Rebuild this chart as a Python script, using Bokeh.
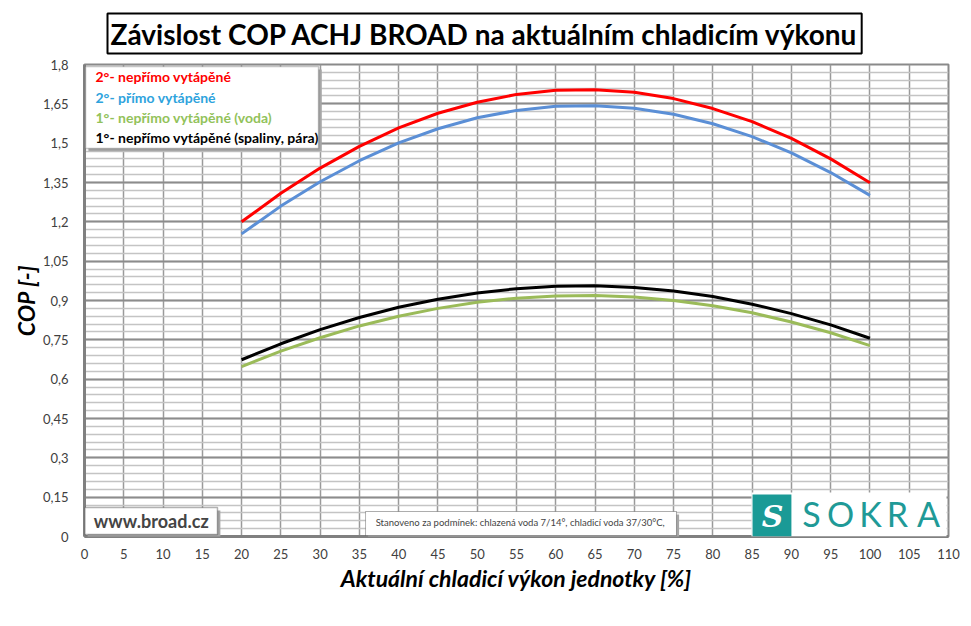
from bokeh.plotting import figure
from bokeh.models import FixedTicker, Label, BoxAnnotation, Range1d
from bokeh.embed import file_html
from bokeh.resources import INLINE
from bokeh.core.properties import value

# ---- data ----
x_pct = [20, 25, 30, 35, 40, 45, 50, 55, 60, 65, 70, 75, 80, 85, 90, 95, 100]
cop_2_neprimo = [1.200, 1.309, 1.405, 1.488, 1.558, 1.614, 1.656, 1.686, 1.702, 1.704,
                 1.694, 1.670, 1.632, 1.582, 1.518, 1.440, 1.349]
cop_2_primo = [1.154, 1.260, 1.353, 1.433, 1.501, 1.555, 1.597, 1.625, 1.641, 1.643,
               1.633, 1.610, 1.574, 1.525, 1.463, 1.388, 1.301]
cop_1_voda = [0.648, 0.707, 0.758, 0.803, 0.840, 0.870, 0.893, 0.909, 0.917, 0.919,
              0.913, 0.900, 0.880, 0.853, 0.818, 0.777, 0.728]
cop_1_spaliny = [0.674, 0.735, 0.789, 0.835, 0.874, 0.905, 0.929, 0.945, 0.954, 0.956,
                 0.950, 0.936, 0.915, 0.886, 0.850, 0.807, 0.756]

series_names = ["2°- nepřímo vytápěné", "2°- přímo vytápěné",
                "1°- nepřímo vytápěné (voda)", "1°- nepřímo vytápěné (spaliny, pára)"]

x_ticks = [0, 5, 10, 15, 20, 25, 30, 35, 40, 45, 50, 55, 60, 65, 70, 75, 80, 85, 90, 95, 100, 105, 110]
y_ticks = [0, 0.15, 0.3, 0.45, 0.6, 0.75, 0.9, 1.05, 1.2, 1.35, 1.5, 1.65, 1.8]
y_tick_labels = ["0", "0,15", "0,3", "0,45", "0,6", "0,75", "0,9", "1,05", "1,2", "1,35", "1,5", "1,65", "1,8"]
y_minor_ticks = [round(i * 0.03, 2) for i in range(61)]

title_text = "Závislost COP ACHJ BROAD na aktuálním chladicím výkonu"
x_label = "Aktuální chladicí výkon jednotky [%]"
y_label = "COP [-]"
web_text = "www.broad.cz"
note_text = "Stanoveno za podmínek: chlazená voda 7/14°, chladicí voda 37/30°C,"

FONT = "Lato"

p = figure(width=960, height=610, output_backend="svg", toolbar_location=None,
           x_range=Range1d(0, 110), y_range=Range1d(0, 1.8),
           min_border_left=84, min_border_right=12, min_border_top=64, min_border_bottom=74)

p.background_fill_color = "white"
p.border_fill_color = "white"
p.outline_line_color = "#8a8a8a"
p.outline_line_width = 2

# title
p.title.text = title_text
p.title.text_font = FONT
p.title.text_font_style = "bold"
p.title.text_font_size = "28px"
p.title.text_color = "black"
p.title.align = "left"
p.title.offset = 23
p.title.border_line_color = "black"
p.title.border_line_width = 2
p.title.background_fill_color = "white"
p.title.padding = 3
p.title.standoff = 18
p.title.vertical_align = "top"

# axes
p.xaxis.ticker = FixedTicker(ticks=x_ticks)
p.yaxis.ticker = FixedTicker(ticks=y_ticks, minor_ticks=y_minor_ticks)
p.yaxis.major_label_overrides = {t: l for t, l in zip(y_ticks, y_tick_labels)}
p.xaxis.major_label_overrides = {t: str(t) for t in x_ticks}
for ax in (p.xaxis, p.yaxis):
    ax.axis_line_color = "#808080"
    ax.axis_line_width = 3
    ax.major_tick_line_color = None
    ax.minor_tick_line_color = None
    ax.major_label_text_font = FONT
    ax.major_label_text_font_size = "13px"
    ax.major_label_text_color = "#404040"
    ax.axis_label_text_font = FONT
    ax.axis_label_text_font_style = "bold italic"
    ax.axis_label_text_font_size = "23px"
    ax.axis_label_text_color = "black"
p.xaxis.axis_label = x_label
p.yaxis.axis_label = y_label
p.xaxis.major_label_standoff = 6
p.yaxis.major_label_standoff = 10
p.xaxis.axis_label_standoff = 2
p.yaxis.axis_label_standoff = 0

# grid
p.xgrid.grid_line_color = "#9a9a9a"
p.xgrid.grid_line_width = 1.5
p.ygrid.grid_line_color = "#8c8c8c"
p.ygrid.grid_line_width = 2
p.ygrid.minor_grid_line_color = "#c4c4c4"
p.ygrid.minor_grid_line_width = 1.5

# curves
p.line(x_pct, cop_2_neprimo, line_color="#ff0000", line_width=3)
p.line(x_pct, cop_2_primo, line_color="#5b8fd6", line_width=3)
p.line(x_pct, cop_1_voda, line_color="#9bbb59", line_width=3)
p.line(x_pct, cop_1_spaliny, line_color="black", line_width=3)

# legend box
p.add_layout(BoxAnnotation(left=0.5, right=30.2, top=1.781, bottom=1.469,
                           fill_color="#a6a6a6", fill_alpha=1, line_color=None))
p.add_layout(BoxAnnotation(left=0.13, right=29.8, top=1.7925, bottom=1.48,
                           fill_color="white", fill_alpha=1, line_color="#404040", line_width=1.5))
legend_colors = ["#ff0000", "#2ea3dd", "#92c25a", "black"]
legend_y = [1.754, 1.675, 1.598, 1.522]
for name, col, yy in zip(series_names, legend_colors, legend_y):
    p.add_layout(Label(x=1.4, y=yy, text=name, text_color=col, text_font=FONT,
                       text_font_style="bold", text_font_size="14px", text_baseline="middle"))

# www box
p.add_layout(BoxAnnotation(left=0.4, right=17.3, top=0.099, bottom=-0.004,
                           fill_color="#a6a6a6", fill_alpha=1, line_color=None))
p.add_layout(BoxAnnotation(left=0.05, right=16.93, top=0.1106, bottom=0.0076,
                           fill_color="white", fill_alpha=1, line_color="black", line_width=1.5))
p.add_layout(Label(x=8.5, y=0.059, text=web_text, text_font=FONT, text_font_style="bold",
                   text_font_size="18px", text_align="center", text_baseline="middle"))

# note box
p.add_layout(BoxAnnotation(left=36.1, right=75.7, top=0.084, bottom=-0.004,
                           fill_color="#a6a6a6", fill_alpha=1, line_color=None))
p.add_layout(BoxAnnotation(left=35.78, right=75.37, top=0.0953, bottom=0.0038,
                           fill_color="white", fill_alpha=1, line_color="black", line_width=1))
p.add_layout(Label(x=55.5, y=0.055, text=note_text, text_font=FONT,
                   text_font_size="9.5px", text_align="center", text_baseline="middle"))

# logo
p.add_layout(BoxAnnotation(left=84.92, right=109.75, top=0.168, bottom=0.0,
                           fill_color="white", fill_alpha=1, line_color=None))
p.add_layout(BoxAnnotation(left=85.05, right=90.0, top=0.160, bottom=0.0,
                           fill_color="#1a9a96", fill_alpha=1, line_color=None))
p.add_layout(Label(x=87.6, y=0.078, text="S", text_color="white", text_font="DejaVu Serif",
                   text_font_style="bold italic", text_font_size="30px",
                   text_align="center", text_baseline="middle"))
logo_letters = ["S", "O", "K", "R", "A"]
logo_px = [811, 840, 870, 897, 928]
for ch, px in zip(logo_letters, logo_px):
    p.add_layout(Label(x=(px - 84) / 7.8545, y=0.088, text=ch, text_color="#1f9a97",
                       text_font=FONT, text_font_size="34px",
                       text_align="center", text_baseline="middle"))

open("out.html", "w").write(file_html(p, INLINE))
